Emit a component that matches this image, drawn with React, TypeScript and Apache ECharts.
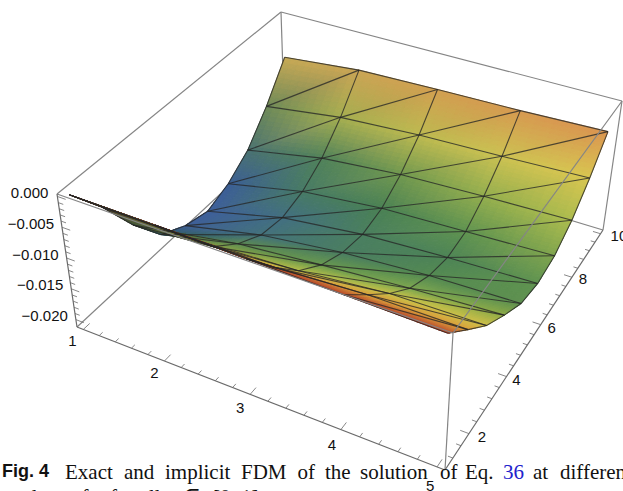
import React, { useEffect, useRef } from "react";
import * as echarts from "echarts";

// ---- data ----
const xValues = [1, 2, 3, 4, 5];
const yValues = [10, 9, 8, 7, 6, 5, 4, 3, 2, 1];
const zRow10 = [-0.00682, -0.00549, -0.00513, -0.00491, -0.00445];
const zRow9 = [-0.01247, -0.01061, -0.00974, -0.00931, -0.00875];
const zRow8 = [-0.01698, -0.01442, -0.01312, -0.01257, -0.01217];
const zRow7 = [-0.01955, -0.01675, -0.01535, -0.01485, -0.01426];
const zRow6 = [-0.02088, -0.01772, -0.01613, -0.01539, -0.0149];
const zRow5 = [-0.01986, -0.01704, -0.01543, -0.01449, -0.0141];
const zRow4 = [-0.01779, -0.01483, -0.01362, -0.01255, -0.01177];
const zRow3 = [-0.01254, -0.0115, -0.01061, -0.00925, -0.00907];
const zRow2 = [-0.00588, -0.006, -0.00598, -0.00515, -0.00517];
const zRow1 = [-0.00004, -0.0001, -0.0004, -0.00068, -0.001];
const zRows = [zRow10, zRow9, zRow8, zRow7, zRow6, zRow5, zRow4, zRow3, zRow2, zRow1];
const xTickLabels = [1, 2, 3, 4, 5];
const yTickLabels = [2, 4, 6, 8, 10];
const zTickLabels = ["0.000", "\u22120.005", "\u22120.010", "\u22120.015", "\u22120.020"];
const zTickValues = [0, -0.005, -0.01, -0.015, -0.02];

// ---- shading of the surface (lit colours at the mesh vertices) ----
const SHADE = [
  ["#C6A955", "#CBA554", "#D29F50", "#D79A50", "#DB9550"],
  ["#6E8A58", "#A5AE50", "#BDBA50", "#CCC252", "#D9C650"],
  ["#4A7272", "#50825A", "#70984F", "#93AE4E", "#ADBC4E"],
  ["#3B5E96", "#477A66", "#4A8154", "#5F9350", "#80A54E"],
  ["#3E5F9C", "#426F82", "#4A7F60", "#4D8456", "#5F9350"],
  ["#3F5F98", "#44727C", "#4A7D62", "#548A52", "#5E9050"],
  ["#2F5A62", "#5F8C52", "#6A9A4F", "#7FA850", "#8EAB47"],
  ["#3A5038", "#8CA347", "#B8C04A", "#C8C24A", "#CFC048"],
  ["#5C4A2C", "#C8A03C", "#D8A03E", "#D99C3C", "#DBA03C"],
  ["#4A2E22", "#9C3C28", "#B03E2A", "#B4402A", "#B8442C"],
];

// ---- box and camera ----
const X0 = 0.92, X1 = 5.08, Y0 = 0.82, Y1 = 10.18, Z0 = 0.0004, Z1 = -0.0212;
const TOP = [[57, 194], [453, 333], [622, 101], [281, 12]];
const BOT = [[77, 327], [445, 470], [603, 230], [285, 134]];

function homography(q: number[][]) {
  const [p0, p1, p2, p3] = q;
  const dx1 = p1[0] - p2[0], dx2 = p3[0] - p2[0], dx3 = p0[0] - p1[0] + p2[0] - p3[0];
  const dy1 = p1[1] - p2[1], dy2 = p3[1] - p2[1], dy3 = p0[1] - p1[1] + p2[1] - p3[1];
  const den = dx1 * dy2 - dx2 * dy1;
  const g = (dx3 * dy2 - dx2 * dy3) / den, h = (dx1 * dy3 - dx3 * dy1) / den;
  const a = p1[0] - p0[0] + g * p1[0], b = p3[0] - p0[0] + h * p3[0];
  const d = p1[1] - p0[1] + g * p1[1], e = p3[1] - p0[1] + h * p3[1];
  return (s: number, t: number) => {
    const w = g * s + h * t + 1;
    return [(a * s + b * t + p0[0]) / w, (d * s + e * t + p0[1]) / w];
  };
}
const topPlane = homography(TOP), botPlane = homography(BOT);
function project(x: number, y: number, z: number) {
  const s = (x - X0) / (X1 - X0), t = (y - Y0) / (Y1 - Y0), r = (Z0 - z) / (Z0 - Z1);
  const a = topPlane(s, t), b = botPlane(s, t);
  return [a[0] + (b[0] - a[0]) * r, a[1] + (b[1] - a[1]) * r];
}

const rgb = (h: string) => [1, 3, 5].map((i) => parseInt(h.slice(i, i + 2), 16));
type V = { p: number[]; c: number[] };
const vert = (c: number, r: number): V => ({
  p: project(xValues[c], yValues[r], zRows[r][c]),
  c: rgb(SHADE[r][c]),
});
function gouraud(a: V, b: V, c: V, n: number) {
  const at = (i: number, j: number) => {
    const u = i / n, v = j / n, w = 1 - u - v;
    return {
      p: [0, 1].map((k) => a.p[k] * w + b.p[k] * u + c.p[k] * v),
      c: [0, 1, 2].map((k) => a.c[k] * w + b.c[k] * u + c.c[k] * v),
    };
  };
  const out: any[] = [];
  const tri = (q: any[]) => {
    const col = [0, 1, 2].map((k) => Math.round((q[0].c[k] + q[1].c[k] + q[2].c[k]) / 3));
    const fill = `rgb(${col[0]},${col[1]},${col[2]})`;
    out.push({
      type: "polygon",
      shape: { points: q.map((o) => o.p) },
      style: { fill, stroke: fill, lineWidth: 1 },
    });
  };
  for (let i = 0; i < n; i++)
    for (let j = 0; j < n - i; j++) {
      tri([at(i, j), at(i + 1, j), at(i, j + 1)]);
      if (i + j < n - 1) tri([at(i + 1, j), at(i + 1, j + 1), at(i, j + 1)]);
    }
  return out;
}

const seg3 = (a: number[], b: number[], stroke: string, lineWidth: number) => ({
  type: "line",
  shape: {
    x1: project(a[0], a[1], a[2])[0], y1: project(a[0], a[1], a[2])[1],
    x2: project(b[0], b[1], b[2])[0], y2: project(b[0], b[1], b[2])[1],
  },
  style: { stroke, lineWidth, fill: "none" },
});

const BOX = "#858585", AXIS = "#6a6a6a", MESH = "rgba(38,38,38,0.78)";

function backBox() {
  return [
    seg3([X0, Y0, Z0], [X0, Y1, Z0], BOX, 1.2),
    seg3([X0, Y1, Z0], [X1, Y1, Z0], BOX, 1.2),
    seg3([X0, Y1, Z0], [X0, Y1, Z1], BOX, 1.2),
    seg3([X0, Y0, Z1], [X0, Y1, Z1], BOX, 1.2),
    seg3([X0, Y1, Z1], [X1, Y1, Z1], BOX, 1.2),
  ];
}
function frontBox() {
  const out: any[] = [
    seg3([X0, Y0, Z0], [X1, Y0, Z0], BOX, 1.2),
    seg3([X1, Y0, Z0], [X1, Y1, Z0], BOX, 1.2),
    seg3([X1, Y1, Z0], [X1, Y1, Z1], BOX, 1.2),
    seg3([X1, Y0, Z0], [X1, Y0, Z1], BOX, 1.2),
    seg3([X0, Y0, Z0], [X0, Y0, Z1], AXIS, 1.2),
    seg3([X0, Y0, Z1], [X1, Y0, Z1], AXIS, 1.2),
    seg3([X1, Y0, Z1], [X1, Y1, Z1], AXIS, 1.2),
  ];
  for (let i = 0; i <= 20; i++) {
    const x = 1 + i / 5;
    out.push(seg3([x, Y0, Z1], [x, Y0 + (i % 5 ? 0.13 : 0.24), Z1], AXIS, 0.8));
  }
  for (let i = 0; i <= 20; i++) {
    const y = 2 + i * 0.4;
    out.push(seg3([X1, y, Z1], [X1 - (i % 5 ? 0.05 : 0.09), y, Z1], AXIS, 0.8));
  }
  for (let i = 1; i <= 4; i++) {
    const y = 2 - i * 0.4;
    if (y >= Y0) out.push(seg3([X1, y, Z1], [X1 - 0.05, y, Z1], AXIS, 0.8));
  }
  for (let i = 0; i <= 20; i++) {
    const z = -i * 0.001;
    out.push(seg3([X0, Y0, z], [X0 + (i % 5 ? 0.06 : 0.1), Y0, z], AXIS, 0.8));
  }
  return out;
}
function labelText(text: any, p: number[], dx: number, dy: number, align: string) {
  return {
    type: "text",
    x: p[0] + dx,
    y: p[1] + dy,
    style: {
      text: String(text),
      fill: "#111",
      fontFamily: "Liberation Sans",
      fontSize: 15,
      align,
      verticalAlign: "middle",
    },
  };
}
const xLabelOffset: number[][] = [[-11, 11], [-10, 12], [-10, 13], [-9, 15], [-7, 19]];
const yLabelOffset: number[][] = [[13, 3], [10, 3], [11, 3], [11, 1], [10, 2]];
function axisLabels() {
  const out: any[] = [];
  xTickLabels.forEach((v, i) =>
    out.push(labelText(v, project(v, Y0, Z1), xLabelOffset[i][0], xLabelOffset[i][1], "center"))
  );
  yTickLabels.forEach((v, i) =>
    out.push(labelText(v, project(X1, v, Z1), yLabelOffset[i][0], yLabelOffset[i][1], v === 10 ? "left" : "center"))
  );
  zTickLabels.forEach((v, i) =>
    out.push(labelText(v, project(X0, Y0, zTickValues[i]), i === 0 ? -9 : -8, -4, "right"))
  );
  return out;
}

// the triangles of the mesh, from the far row to the near one
const triangles: number[][] = [];
for (let r = 0; r < yValues.length - 1; r++)
  for (let c = 0; c < xValues.length - 1; c++) {
    triangles.push([c, r, 0], [c, r, 1]);
  }

function renderTriangle(_: any, api: any) {
  const c = api.value(0), r = api.value(1), k = api.value(2);
  const near0 = vert(c, r + 1), far1 = vert(c + 1, r);
  const third = k === 0 ? vert(c, r) : vert(c + 1, r + 1);
  return { type: "group", children: gouraud(near0, far1, third, 10) };
}
function meshLines() {
  const out: any[] = [];
  const pl = (pts: number[][]) =>
    out.push({ type: "polyline", shape: { points: pts }, style: { stroke: MESH, lineWidth: 1.1, fill: "none" } });
  yValues.forEach((_, r) => pl(xValues.map((__, c) => vert(c, r).p)));
  xValues.forEach((_, c) => pl(yValues.map((__, r) => vert(c, r).p)));
  for (let r = 0; r < yValues.length - 1; r++)
    for (let c = 0; c < xValues.length - 1; c++) pl([vert(c, r + 1).p, vert(c + 1, r).p]);
  return out;
}

const groupSeries = (id: string, build: () => any[], z: number) => ({
  type: "custom",
  id,
  coordinateSystem: "none",
  silent: true,
  clip: false,
  z,
  data: [[0]],
  renderItem: () => ({ type: "group", children: build() }),
});

const captionWords = ["Exact", "and", "implicit", "FDM", "of", "the", "solution", "of", "Eq.", "36", "at", "different"];
const captionX = [65, 124, 165, 241, 297.5, 325, 360, 440, 465, 503, 533, 560];
const CAPTION_FONT = "Liberation Serif";

export default function App() {
  const ref = useRef<HTMLDivElement>(null);
  useEffect(() => {
    document.body.style.margin = "0";
    const chart = echarts.init(ref.current!, undefined, { renderer: "svg" });
    chart.setOption({
      animation: false,
      backgroundColor: "#fff",
      graphic: {
        elements: [
          {
            type: "text", x: 2, y: 471, z: 50,
            style: { text: "Fig. 4", fontFamily: "Liberation Sans", fontWeight: "bold", fontSize: 18, fill: "#111", verticalAlign: "middle" },
          },
          ...captionWords.map((text, i) => ({
            type: "text", x: captionX[i], y: 471.5, z: 50,
            style: { text, fontFamily: CAPTION_FONT, fontSize: 21, fill: text === "36" ? "#2222cc" : "#111", verticalAlign: "middle" },
          })),
          {
            type: "text", x: 12, y: 497, z: 50,
            style: { text: "values of \u03b1 for all x \u2208", fontFamily: CAPTION_FONT, fontSize: 21, fill: "#111", verticalAlign: "middle" },
          },
          {
            type: "text", x: 213, y: 497, z: 50,
            style: { text: "[0, 1]", fontFamily: CAPTION_FONT, fontSize: 21, fill: "#111", verticalAlign: "middle" },
          },
        ],
      },
      series: [
        groupSeries("back-box", backBox, 1),
        { type: "custom", id: "surface", coordinateSystem: "none", silent: true, clip: false, z: 2, data: triangles, renderItem: renderTriangle },
        groupSeries("mesh", meshLines, 3),
        groupSeries("front-box", frontBox, 4),
        groupSeries("labels", axisLabels, 5),
      ],
    });
    return () => chart.dispose();
  }, []);
  return <div ref={ref} style={{ position: "fixed", left: 0, top: 0, width: 623, height: 491 }} />;
}
